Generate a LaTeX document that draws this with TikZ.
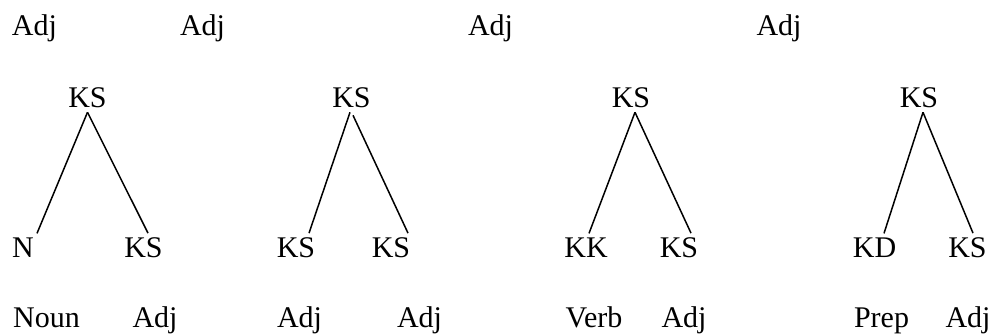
\documentclass[tikz,border=0pt]{standalone}
\usepackage{fontspec}
\setmainfont{Liberation Serif}
\begin{document}
\begin{tikzpicture}[x=1pt, y=-1pt,
  lbl/.style={font=\fontsize{30}{36}\selectfont, inner sep=0pt, outer sep=4pt, anchor=base},
  branch/.style={line width=1.5pt}]
\useasboundingbox (0,0) rectangle (995,334);

% category row above the trees
\node[lbl] (a1) at (34.5,36) {Adj};
\node[lbl] (a2) at (202.5,36) {Adj};
\node[lbl] (a3) at (490.5,36) {Adj};
\node[lbl] (a4) at (779,36) {Adj};

% tree 1: KS -> N KS
\node[lbl] (t1) at (87.5,108) {KS};
\node[lbl] (l1) at (23,257) {N};
\node[lbl] (r1) at (143.5,257) {KS};
\draw[branch] (t1.south) -- ([xshift=14pt]l1.north);
\draw[branch] (t1.south) -- ([xshift=4.5pt]r1.north);

% tree 2: KS -> KS KS
\node[lbl] (t2) at (351.5,108) {KS};
\node[lbl] (l2) at (296,257) {KS};
\node[lbl] (r2) at (391,257) {KS};
\draw[branch] ([xshift=-1.5pt]t2.south) -- ([xshift=13pt]l2.north);
\draw[branch] ([xshift=1.5pt,yshift=-3pt]t2.south) -- ([xshift=17pt]r2.north);

% tree 3: KS -> KK KS
\node[lbl] (t3) at (631,108) {KS};
\node[lbl] (l3) at (586,257) {KK};
\node[lbl] (r3) at (679,257) {KS};
\draw[branch] ([xshift=4pt]t3.south) -- ([xshift=3pt]l3.north);
\draw[branch] ([xshift=4pt]t3.south) -- ([xshift=12pt]r3.north);

% tree 4: KS -> KD KS
\node[lbl] (t4) at (919,108) {KS};
\node[lbl] (l4) at (874.5,257) {KD};
\node[lbl] (r4) at (967.5,257) {KS};
\draw[branch] ([xshift=4pt]t4.south) -- ([xshift=9.5pt]l4.north);
\draw[branch] ([xshift=4pt]t4.south) -- ([xshift=5.5pt]r4.north);

% word row below the trees
\node[lbl] (w1) at (46.5,327) {Noun};
\node[lbl] (w2) at (155,327) {Adj};
\node[lbl] (w3) at (299.5,327) {Adj};
\node[lbl] (w4) at (419.5,327) {Adj};
\node[lbl] (w5) at (594,327) {Verb};
\node[lbl] (w6) at (684,327) {Adj};
\node[lbl] (w7) at (881.5,327) {Prep};
\node[lbl] (w8) at (968,327) {Adj};
\end{tikzpicture}
\end{document}
